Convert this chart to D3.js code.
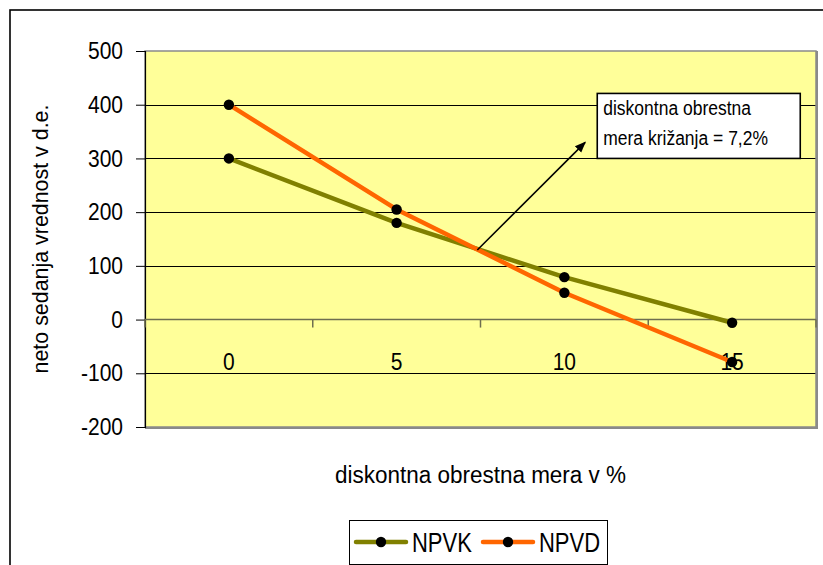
<!DOCTYPE html>
<html><head><meta charset="utf-8">
<script src="https://cdn.jsdelivr.net/npm/d3@7"></script>
<style>body{margin:0;background:#fff;} svg{display:block;font-family:"Liberation Sans",Arial,sans-serif;}</style>
</head><body>
<svg id="c" width="823" height="565"></svg>
<script>
const categories = ["0", "5", "10", "15"];
const rates = [0, 5, 10, 15];
const npvk = [300, 180, 79, -6];
const npvd = [400, 205, 50, -79];
const seriesNames = ["NPVK", "NPVD"];
const seriesColors = ["#808000", "#FF6600"];
const yTicks = [500, 400, 300, 200, 100, 0, -100, -200];
const xTitle = "diskontna obrestna mera v %";
const yTitle = "neto sedanja vrednost v d.e.";
const noteLines = ["diskontna obrestna", "mera križanja = 7,2%"];

const svg = d3.select("#c");
const plot = {l: 145, r: 816, t: 51, b: 427};

// outer frame
svg.append("rect").attr("x", 10).attr("y", 10).attr("width", 900).attr("height", 700)
  .attr("fill", "#fff").attr("stroke", "#000").attr("stroke-width", 1.6);

const x = d3.scaleBand().domain(categories).range([plot.l, plot.r]).padding(0);
const y = d3.scaleLinear().domain([-200, 500]).range([plot.b, plot.t]);
const xc = c => x(c) + x.bandwidth() / 2;

// plot area
svg.append("rect").attr("x", plot.l).attr("y", plot.t).attr("width", plot.r - plot.l).attr("height", plot.b - plot.t)
  .attr("fill", "#FFFF99");

// gridlines
svg.append("g").selectAll("line").data(yTicks.filter(v => v !== 0 && v !== 500 && v !== -200)).join("line")
  .attr("x1", plot.l).attr("x2", plot.r).attr("y1", d => Math.round(y(d)) + 0.5).attr("y2", d => Math.round(y(d)) + 0.5)
  .attr("stroke", "#000").attr("stroke-width", 1);

// plot border (gray)
svg.append("rect").attr("x", plot.l).attr("y", plot.t).attr("width", plot.r - plot.l).attr("height", plot.b - plot.t)
  .attr("fill", "none").attr("stroke", "#8a8a8a").attr("stroke-width", 1.5);
svg.append("line").attr("x1", plot.r + 1).attr("x2", plot.r + 1).attr("y1", plot.t).attr("y2", plot.b + 1)
  .attr("stroke", "#8a8a8a").attr("stroke-width", 2);
svg.append("line").attr("x1", plot.l).attr("x2", plot.r + 2).attr("y1", plot.b + 1).attr("y2", plot.b + 1)
  .attr("stroke", "#8a8a8a").attr("stroke-width", 2);

// y axis
const yAxis = d3.axisLeft(y).tickValues(yTicks).tickSize(9).tickPadding(13).tickFormat(d => String(d));
const gy = svg.append("g").attr("transform", `translate(${plot.l},0)`).call(yAxis);
gy.select(".domain").attr("stroke", "#000").attr("stroke-width", 1.2);
gy.selectAll(".tick line").attr("stroke", "#000");
gy.selectAll("text").attr("font-size", 21).attr("fill", "#000")
  .attr("font-family", "Liberation Sans, Arial, sans-serif").attr("transform", "scale(1,1.13)");

// x axis (at y=0)
const gx = svg.append("g").attr("transform", `translate(0,${y(0)})`);
gx.append("line").attr("x1", plot.l).attr("x2", plot.r).attr("y1", 0).attr("y2", 0)
  .attr("stroke", "#6e6e50").attr("stroke-width", 1.5);
const bounds = categories.map(c => x(c)).concat([plot.r]);
gx.selectAll("line.t").data(bounds).join("line").attr("class", "t")
  .attr("x1", d => d).attr("x2", d => d).attr("y1", 0).attr("y2", 8)
  .attr("stroke", "#6e6e50").attr("stroke-width", 1.5);
gx.selectAll("text").data(categories).join("text")
  .attr("transform", d => `translate(${xc(d)},50) scale(1,1.13)`).attr("text-anchor", "middle")
  .attr("font-size", 21).attr("fill", "#000").text(d => d);

// series
const data = [npvk, npvd];
const line = d3.line().x((d, i) => xc(categories[i])).y(d => y(d));
data.forEach((vals, s) => {
  svg.append("path").attr("d", line(vals)).attr("fill", "none")
    .attr("stroke", seriesColors[s]).attr("stroke-width", 4.5).attr("stroke-linejoin", "round");
});
data.forEach((vals, s) => {
  svg.append("g").selectAll("circle").data(vals).join("circle")
    .attr("cx", (d, i) => xc(categories[i])).attr("cy", d => y(d)).attr("r", 5.2).attr("fill", "#000");
});

// intersection (computed from data between 5 and 10)
const d0 = npvd[1] - npvk[1], d1 = npvd[2] - npvk[2];
const f = d0 / (d0 - d1);
const ix = xc(categories[1]) + f * (xc(categories[2]) - xc(categories[1]));
const iy = y(npvk[1] + f * (npvk[2] - npvk[1]));

// annotation
const defs = svg.append("defs");
defs.append("marker").attr("id", "ah").attr("viewBox", "0 0 10 10").attr("refX", 9).attr("refY", 5)
  .attr("markerWidth", 7).attr("markerHeight", 7).attr("orient", "auto")
  .append("path").attr("d", "M0,1 L10,5 L0,9 z").attr("fill", "#000");
const ax2 = plot.l + 0.656 * (plot.r - plot.l), ay2 = y(330);
svg.append("line").attr("x1", ix + 3).attr("y1", iy + 2).attr("x2", ax2).attr("y2", ay2)
  .attr("stroke", "#000").attr("stroke-width", 1.6).attr("marker-end", "url(#ah)");

const bx = plot.l + 0.674 * (plot.r - plot.l), bw = 203;
const by = y(421), bh = y(300) - y(421);
svg.append("rect").attr("x", bx).attr("y", by).attr("width", bw).attr("height", bh)
  .attr("fill", "#fff").attr("stroke", "#000").attr("stroke-width", 1.6);
noteLines.forEach((t, i) => {
  svg.append("text").attr("transform", `translate(${bx + 6},${by + 22 + i * 29.5}) scale(1,1.15)`)
    .attr("font-size", 17.5).attr("fill", "#000").text(t);
});

// axis titles
svg.append("text").attr("transform", `translate(${(plot.l + plot.r) / 2},483) scale(1,1.05)`).attr("text-anchor", "middle")
  .attr("font-size", 22.5).attr("fill", "#000").text(xTitle);
svg.append("text").attr("transform", `translate(48,${(plot.t + plot.b) / 2}) rotate(-90) scale(1.02,1.05)`).attr("text-anchor", "middle")
  .attr("font-size", 21).attr("fill", "#000").text(yTitle);

// legend
const lg = svg.append("g");
lg.append("rect").attr("x", 349.5).attr("y", 520.5).attr("width", 258).attr("height", 44)
  .attr("fill", "#fff").attr("stroke", "#000").attr("stroke-width", 1);
const itemX = [356, 483];
seriesNames.forEach((n, s) => {
  const g = lg.append("g").attr("transform", `translate(${itemX[s]},542)`);
  g.append("line").attr("x1", 0).attr("x2", 50).attr("y1", 0).attr("y2", 0)
    .attr("stroke", seriesColors[s]).attr("stroke-width", 4.5).attr("stroke-linecap", "round");
  g.append("circle").attr("cx", 25).attr("cy", 0).attr("r", 5.2).attr("fill", "#000");
  g.append("text").attr("transform", "translate(56,9.5) scale(1,1.22)").attr("font-size", 22).attr("fill", "#000").text(n);
});
</script>
</body></html>
